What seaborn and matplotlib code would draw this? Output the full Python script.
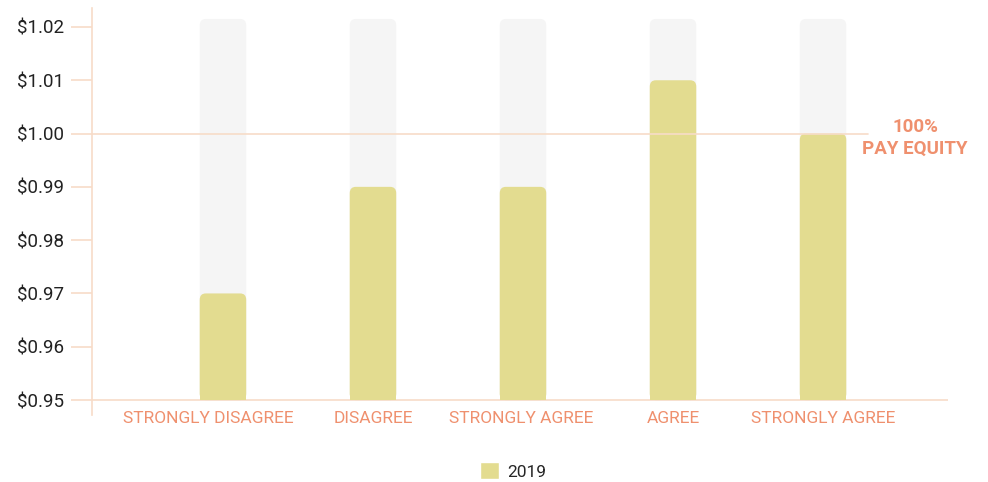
import matplotlib.pyplot as plt
import matplotlib.transforms as mtransforms
import seaborn as sns
import numpy as np
import pandas as pd
from matplotlib.patches import FancyBboxPatch

categories = ['STRONGLY DISAGREE', 'DISAGREE', 'STRONGLY AGREE ', 'AGREE', 'STRONGLY AGREE']
values_2019 = [0.97, 0.99, 0.99, 1.01, 1.00]
track_top = 1.0215
y_ticks = [0.95, 0.96, 0.97, 0.98, 0.99, 1.00, 1.01, 1.02]
base = 0.95

sns.set_theme(style='white')
plt.rcParams['font.family'] = ['Roboto', 'DejaVu Sans']

line_col = '#f7dcc8'
label_col = '#ef906e'
bar_col = '#e3dc90'
track_col = '#f5f5f5'

df = pd.DataFrame({'category': categories, 'value': values_2019})
df['pos'] = np.arange(len(categories))

fig = plt.figure(figsize=(9.88, 4.82), dpi=100)
ax = fig.add_axes([92 / 988, 1 - 415 / 482, (948 - 92) / 988, (415 - 8) / 482])

sns.barplot(x='pos', y=[track_top - base] * len(categories), data=df, color=track_col,
            width=0.31, saturation=1, bottom=base, ax=ax, native_scale=True)
sns.barplot(x='pos', y=df['value'] - base, data=df, color=bar_col, width=0.31,
            saturation=1, bottom=base, ax=ax, label='2019', native_scale=True)

# round the top corners a little
for p in list(ax.patches):
    x, y = p.get_x(), p.get_y()
    w, h = p.get_width(), p.get_height()
    fb = FancyBboxPatch((x, y), w, h, boxstyle='round,pad=0,rounding_size=0.04',
                        mutation_aspect=0.0012 / 0.04, facecolor=p.get_facecolor(),
                        edgecolor='none', zorder=p.get_zorder())
    p.remove()
    ax.add_patch(fb)
    # square off the bottom corners
    ax.add_patch(plt.Rectangle((x, y), w, h * 0.3 if h > 0.005 else h * 0.5,
                               facecolor=fb.get_facecolor(), edgecolor='none',
                               zorder=p.get_zorder()))

ax.set_xlim(-0.873, 4.833)
ax.set_ylim(base - 0.00281, 1.02356)
ax.set_yticks(y_ticks)
ax.set_yticklabels(['$%.2f' % v for v in y_ticks], fontsize=13.5, color='#222222')
ax.set_xticks(df['pos'])
ax.set_xticklabels(categories, fontsize=12.5, color=label_col)
ax.tick_params(axis='y', length=15, width=1.2, color=line_col, pad=5, left=True)
ax.tick_params(axis='x', length=0, pad=-3)
ax.set_xlabel('')
ax.set_ylabel('')

# first label sits a bit left of its bar, as in the source chart
first = ax.get_xticklabels()[0]
first.set_transform(first.get_transform() +
                    mtransforms.ScaledTranslation(-15 / 100, 0, fig.dpi_scale_trans))

for s in ['top', 'right', 'bottom']:
    ax.spines[s].set_visible(False)
ax.spines['left'].set_color(line_col)
ax.spines['left'].set_linewidth(1.2)

ax.axhline(base, color=line_col, lw=1.2, zorder=0.5)
ax.axhline(1.00, xmin=0, xmax=(868 - 92) / (948 - 92), color=line_col, lw=1.2, zorder=5)
ax.text(915 / 988, 1 - 127 / 482, '100%', transform=fig.transFigure, ha='center',
        va='center', fontsize=13.5, fontweight='bold', color=label_col)
ax.text(915 / 988, 1 - 149 / 482, 'PAY EQUITY', transform=fig.transFigure, ha='center',
        va='center', fontsize=13.5, fontweight='bold', color=label_col)

ax.legend(loc='center', bbox_to_anchor=(513 / 988, 1 - 471 / 482),
          bbox_transform=fig.transFigure, frameon=False, fontsize=12.5,
          handlelength=1.1, handleheight=1.1, handletextpad=0.5)

fig.savefig('out.png', dpi=100)
